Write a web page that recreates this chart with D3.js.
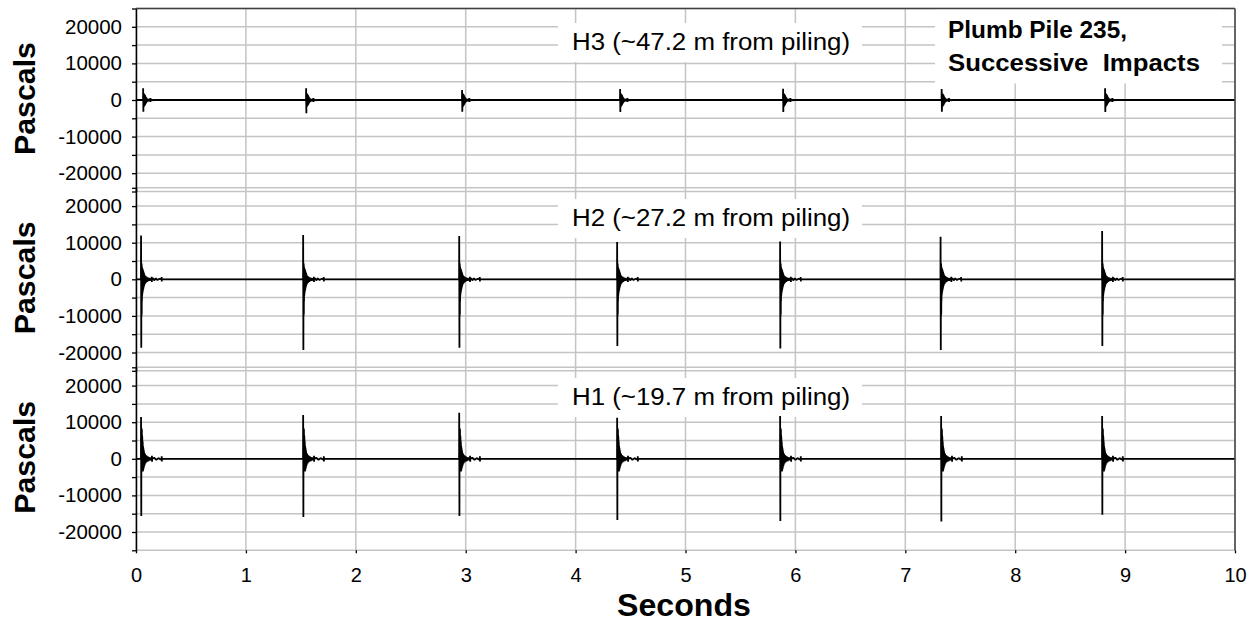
<!DOCTYPE html>
<html>
<head>
<meta charset="utf-8">
<script src="https://cdn.jsdelivr.net/npm/d3@7"></script>
<style>
  html, body { margin: 0; padding: 0; background: #fff; }
  svg { display: block; font-family: "Liberation Sans", Arial, sans-serif; }
  text { white-space: pre; }
</style>
</head>
<body>
<svg id="chart" width="1258" height="626"></svg>
<script>
// ---------------- DATA ----------------
const xTickValues = [0, 1, 2, 3, 4, 5, 6, 7, 8, 9, 10];
const yLabelTicks = [20000, 10000, 0, -10000, -20000];
const yMinorTicks = [-25000, -20000, -15000, -10000, -5000, 0, 5000, 10000, 15000, 20000, 25000];
const panelLabels = ["H3 (~47.2 m from piling)", "H2 (~27.2 m from piling)", "H1 (~19.7 m from piling)"];
const yAxisTitle = "Pascals";
const xAxisTitle = "Seconds";
const legendLines = ["Plumb Pile 235,", "Successive  Impacts"];

// impact times (s), positive peak (Pa), negative peak (Pa)
const h3Times = [0.064, 1.547, 2.966, 4.404, 5.887, 7.330, 8.817];
const h3Max   = [3200, 3200, 2700, 3000, 3100, 3000, 3200];
const h3Min   = [-3200, -3600, -3200, -3300, -3300, -3200, -3300];

const h2Times = [0.045, 1.520, 2.940, 4.377, 5.860, 7.320, 8.790];
const h2Max   = [12000, 12100, 11800, 10200, 10300, 11600, 13200];
const h2Min   = [-18700, -19300, -18700, -18200, -18900, -19300, -18200];

const h1Times = [0.045, 1.520, 2.940, 4.377, 5.860, 7.325, 8.790];
const h1Max   = [11400, 12000, 12600, 11200, 11700, 11700, 11700];
const h1Min   = [-15600, -15900, -15600, -16700, -17000, -17100, -15300];

// ring-down after each impact: [seconds after impact, Pa]
const h3Coda = [[0.004,1800],[0.005,-2000],[0.007,1800],[0.008,-1800],[0.010,1700],[0.011,-1700],
  [0.013,1500],[0.014,-1500],[0.016,1400],[0.017,-1400],[0.019,1200],[0.020,-1200],[0.022,1000],
  [0.024,-1000],[0.026,800],[0.028,-800],[0.031,600],[0.034,-600],[0.038,400],[0.042,-400],
  [0.048,300],[0.054,-300],[0.060,200],[0.064,-200],[0.066,500],[0.068,-500],
  [0.072,0],[0.080,150],[0.088,-150],[0.095,0]];
const h2Coda = [[0.004,4500],[0.005,-10000],[0.006,4200],[0.007,-9500],[0.008,3500],[0.009,-6000],
  [0.010,3200],[0.011,-4500],[0.012,3000],[0.013,-4000],[0.015,2800],[0.016,-3500],[0.018,2600],
  [0.019,-3000],[0.021,2300],[0.022,-2600],[0.024,2000],[0.025,-2200],[0.027,1700],[0.028,-1800],
  [0.030,1400],[0.032,-1500],[0.035,1100],[0.038,-1200],[0.042,900],[0.046,-900],[0.050,700],
  [0.055,-700],[0.060,500],[0.066,-500],[0.072,400],[0.078,-400],[0.085,300],[0.092,-300],[0.097,0],
  [0.098,700],[0.099,-700],[0.100,0],[0.110,300],[0.120,-300],[0.135,250],[0.150,-200],[0.170,150],
  [0.187,0],[0.188,600],[0.189,-600],[0.190,0]];
const h1Coda = [[0.004,8400],[0.005,-3500],[0.006,8200],[0.007,-3000],[0.008,8000],[0.009,-2500],
  [0.010,6500],[0.011,-3500],[0.012,6000],[0.013,-3500],[0.014,5000],[0.015,-3500],[0.016,4500],
  [0.017,-3500],[0.019,3500],[0.020,-3200],[0.022,3000],[0.023,-2800],[0.025,2500],[0.026,-2400],
  [0.028,2000],[0.030,-2000],[0.032,1600],[0.034,-1600],[0.037,1300],[0.040,-1300],[0.044,1000],
  [0.048,-1000],[0.053,800],[0.058,-800],[0.064,600],[0.070,-600],[0.078,400],[0.086,-400],
  [0.094,300],[0.099,0],[0.100,800],[0.101,-800],[0.102,0],[0.120,300],[0.140,-300],[0.160,200],
  [0.175,-150],[0.188,0],[0.189,700],[0.190,-700],[0.191,0]];

// ---------------- LAYOUT ----------------
const svg = d3.select("#chart");
const plotLeft = 136, plotRight = 1235;
const panelZero = [100, 279.3, 458.8];
const half = 91.5;
const plotTop = panelZero[0] - half;
const gridColor = "#c4c4c4";
const font = '"Liberation Sans", Arial, sans-serif';

const x = d3.scaleLinear().domain([0, 10]).range([plotLeft, plotRight]);

const panels = [
  { times: h3Times, max: h3Max, min: h3Min, coda: h3Coda, label: panelLabels[0], labelBase: 50 },
  { times: h2Times, max: h2Max, min: h2Min, coda: h2Coda, label: panelLabels[1], labelBase: 226 },
  { times: h1Times, max: h1Max, min: h1Min, coda: h1Coda, label: panelLabels[2], labelBase: 405 }
];
panels.forEach((p, i) => {
  p.y = d3.scaleLinear().domain([-25000, 25000]).range([panelZero[i] + half, panelZero[i] - half]);
  const pts = [[0, 0]];
  p.times.forEach((t, k) => {
    pts.push([t, 0]);
    pts.push([t + 0.001, p.max[k]]);
    pts.push([t + 0.003, p.min[k]]);
    p.coda.forEach(([d, v]) => pts.push([t + d, v]));
  });
  pts.push([10, 0]);
  p.points = pts;
});

const gGrid = svg.append("g");
panels.forEach(p => {
  gGrid.selectAll(null).data(yMinorTicks).enter().append("line")
    .attr("x1", plotLeft).attr("x2", plotRight)
    .attr("y1", d => p.y(d)).attr("y2", d => p.y(d))
    .attr("stroke", gridColor).attr("stroke-width", 1.5);
});
gGrid.selectAll(null).data(xTickValues).enter().append("line")
  .attr("x1", d => x(d)).attr("x2", d => x(d))
  .attr("y1", plotTop).attr("y2", panels[2].y(-25000))
  .attr("stroke", gridColor).attr("stroke-width", 1.5);

panels.forEach(p => {
  svg.append("rect").attr("x", 558).attr("y", p.labelBase - 27)
    .attr("width", 304).attr("height", 39).attr("fill", "#fff");
});
svg.append("rect").attr("x", 935).attr("y", plotTop).attr("width", 287).attr("height", 75).attr("fill", "#fff");

const line = d3.line().x(d => x(d[0]));
panels.forEach(p => {
  svg.append("path")
    .attr("d", line.y(d => p.y(d[1]))(p.points))
    .attr("fill", "none").attr("stroke", "#000").attr("stroke-width", 1.8)
    .attr("stroke-linejoin", "bevel");
});

const yBottom = panels[2].y(-25000);
svg.append("line").attr("x1", plotLeft).attr("x2", plotRight).attr("y1", plotTop).attr("y2", plotTop)
  .attr("stroke", "#404040").attr("stroke-width", 1.5);
svg.append("line").attr("x1", plotRight).attr("x2", plotRight).attr("y1", plotTop).attr("y2", yBottom)
  .attr("stroke", "#404040").attr("stroke-width", 1.5);

panels.forEach((p, i) => {
  const ax = d3.axisLeft(p.y).tickValues(yMinorTicks).tickSize(4).tickSizeOuter(0).tickPadding(10)
    .tickFormat(d => yLabelTicks.includes(d) ? String(d) : "");
  const g = svg.append("g").attr("transform", `translate(${plotLeft},0)`).call(ax);
  g.select(".domain").attr("stroke", "#000").attr("stroke-width", 1.5);
  g.selectAll(".tick line").attr("stroke", "#000").attr("stroke-width", 1.3);
  g.selectAll(".tick text").attr("font-size", 20.5).attr("font-family", font).attr("fill", "#000");
  svg.append("text")
    .attr("transform", `translate(35,${panelZero[i] - 1.5}) rotate(-90)`)
    .attr("text-anchor", "middle").attr("font-family", font).attr("font-weight", "bold")
    .attr("font-size", 30).attr("textLength", 113).attr("lengthAdjust", "spacingAndGlyphs")
    .text(yAxisTitle);
  svg.append("text").attr("x", 572).attr("y", p.labelBase)
    .attr("font-family", font).attr("font-size", 23)
    .attr("textLength", 278).attr("lengthAdjust", "spacingAndGlyphs")
    .text(p.label);
});

const xAx = d3.axisBottom(x).tickValues(xTickValues).tickSize(3).tickSizeOuter(0).tickPadding(15);
const gx = svg.append("g").attr("transform", `translate(0,${yBottom})`).call(xAx);
gx.select(".domain").remove();
gx.selectAll(".tick line").attr("stroke", "#000").attr("stroke-width", 1.3);
gx.selectAll(".tick text").attr("font-size", 20).attr("font-family", font).attr("fill", "#000");

svg.append("text").attr("x", 684).attr("y", 616).attr("text-anchor", "middle")
  .attr("font-family", font).attr("font-weight", "bold").attr("font-size", 30.5)
  .attr("textLength", 134).attr("lengthAdjust", "spacingAndGlyphs")
  .text(xAxisTitle);

svg.append("text").attr("x", 948).attr("y", 38).attr("font-family", font).attr("font-weight", "bold")
  .attr("font-size", 23).attr("textLength", 179).attr("lengthAdjust", "spacingAndGlyphs").text(legendLines[0]);
svg.append("text").attr("x", 948).attr("y", 71).attr("font-family", font).attr("font-weight", "bold")
  .attr("font-size", 23).attr("textLength", 252).attr("lengthAdjust", "spacingAndGlyphs").text(legendLines[1]);
</script>
</body>
</html>
